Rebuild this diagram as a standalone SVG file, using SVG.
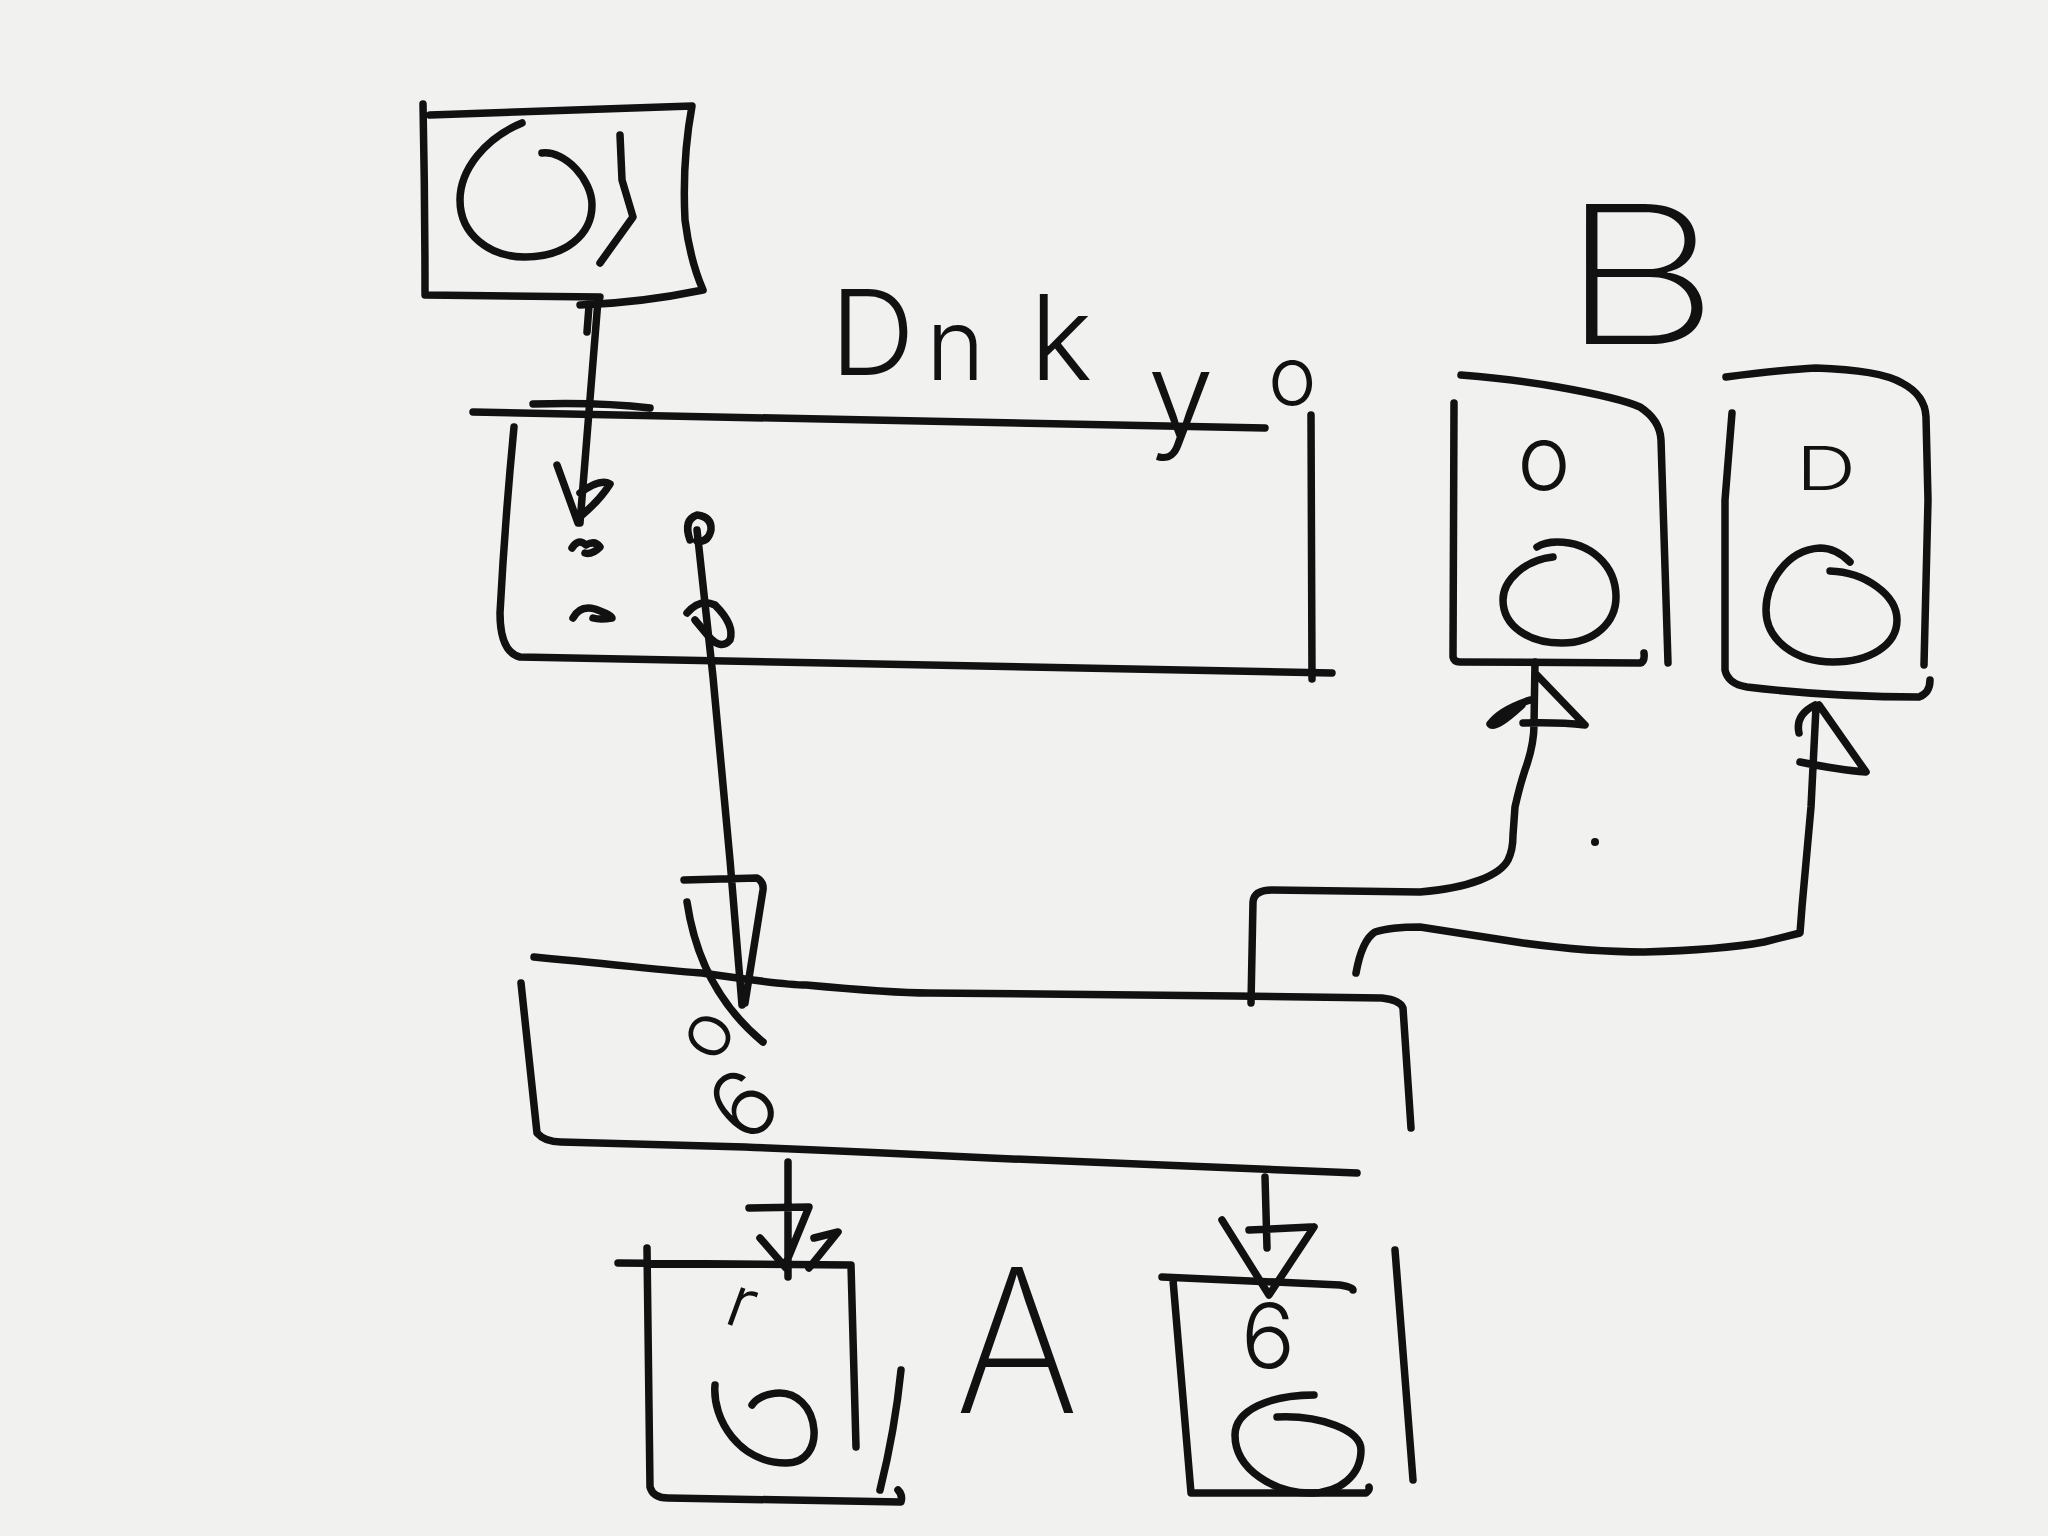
<svg xmlns="http://www.w3.org/2000/svg" width="2048" height="1536" viewBox="0 0 2048 1536">
<style>
.s{fill:none;stroke:#111;stroke-width:7.5;stroke-linecap:round;stroke-linejoin:round}
.t{font-family:"Inter","Liberation Sans","DejaVu Sans",Arial,sans-serif;font-weight:300;fill:#111}
.big{font-weight:200}
</style>
<rect x="0" y="0" width="2048" height="1536" fill="#f1f1f0"/>
<g id="top-box">
<path class="s" d="M423,104 Q425,200 425,293 M430,115 L692,106 Q682,160 685,220 Q690,260 703,290 M425,295 L600,297 M580,305 Q640,303 703,290"/>
<path class="s" d="M522,123 C485,138 460,170 460,200 C460,235 490,257 525,257 C565,257 592,235 592,205 C592,180 565,150 542,153"/>
<path class="s" d="M620,135 L622,180 L633,217 L600,263"/>
</g>
<g id="box-onkuto">
<path class="s" d="M473,412 L1265,428 M533,404 Q600,402 650,408"/>
<path class="s" d="M514,427 Q505,520 500,613 Q500,652 520,657 L1332,673"/>
<path class="s" d="M1311,415 L1312,679"/>
<path class="s" d="M573,618 Q580,605 595,609 Q612,615 612,618 Q600,620 593,618"/>
<path class="s" d="M687,613 Q700,598 715,605 Q735,625 730,640 Q722,650 710,638 L695,620"/>
<path class="s" d="M690,540 Q683,520 697,515 Q712,517 711,530 Q708,543 697,541"/>
<text class="t" font-size="118"><tspan x="830" y="375">D</tspan><tspan x="926" y="380" font-size="100">n</tspan><tspan x="1030" y="380">k</tspan><tspan x="1148" y="436">у</tspan><tspan x="1268" y="405" font-size="82">о</tspan></text>
</g>
<g id="box-middle">
<path class="s" d="M534,957 C620,965 680,972 702,973 C750,980 790,985 806,985 C860,990 900,993 929,993 L1235,996 L1382,998 Q1400,1000 1403,1008 L1411,1128"/>
<path class="s" d="M521,983 L537,1133 Q545,1142 561,1142 L745,1147 Q870,1152 990,1158 L1357,1173"/>
<text class="t" font-size="76" text-anchor="middle" transform="translate(710,1036) rotate(-60)" dy="20">o</text>
<text class="t" font-size="92" text-anchor="middle" transform="translate(744,1105) rotate(-45)" dy="32">6</text>
</g>
<g id="label-B"><text class="t big" font-size="192" x="1560" y="344" textLength="160" lengthAdjust="spacingAndGlyphs">B</text></g>
<g id="box-B1">
<path class="s" d="M1461,375 Q1520,380 1558,387 Q1620,398 1640,407 Q1660,420 1661,440 L1668,663 M1454,403 L1453,657 Q1454,662 1460,662 L1640,663 Q1645,662 1644,653"/>
<text class="t" font-size="90" text-anchor="middle" x="1544" y="490">o</text>
<path class="s" d="M1553,557 C1525,560 1503,580 1503,600 C1503,627 1530,643 1562,643 C1595,643 1616,622 1616,597 C1616,565 1590,542 1557,542 C1548,542 1540,545 1537,547"/>
</g>
<g id="box-B2">
<path class="s" d="M1726,377 Q1780,370 1816,368 Q1880,370 1902,383 Q1925,395 1926,417 L1928,500 L1924,665 M1732,413 L1725,500 L1725,670 Q1728,684 1747,687 Q1830,697 1919,697 Q1930,693 1930,680"/>
<text class="t" font-size="60" x="1796" y="490" textLength="60" lengthAdjust="spacingAndGlyphs">D</text>
<path class="s" d="M1850,562 C1840,552 1830,548 1820,548 C1785,550 1766,585 1766,610 C1766,640 1795,662 1833,662 C1870,662 1897,645 1897,620 C1897,595 1865,572 1830,571"/>
</g>
<g id="box-A1">
<path class="s" d="M618,1263 L851,1265 M647,1248 L650,1487 Q653,1498 668,1498 L901,1502 Q903,1495 898,1490 M851,1265 L856,1447 M901,1370 Q895,1430 880,1490"/>
<text class="t" font-size="72" font-weight="400" transform="translate(722,1322) rotate(20)">r</text>
<path class="s" d="M715,1385 C712,1420 740,1463 786,1463 C808,1463 815,1445 814,1430 C812,1405 795,1393 780,1393 C765,1393 755,1400 752,1405"/>
</g>
<g id="label-A"><text class="t big" font-size="200" x="955" y="1413" textLength="124" lengthAdjust="spacingAndGlyphs">A</text></g>
<g id="box-A2">
<path class="s" d="M1162,1277 L1340,1285 Q1353,1287 1353,1290 M1173,1280 L1191,1493 L1366,1493 Q1370,1490 1369,1487 M1395,1250 L1413,1480"/>
<text class="t" font-size="90" text-anchor="middle" x="1268" y="1368">6</text>
<path class="s" d="M1314,1395 C1270,1395 1235,1410 1235,1435 C1235,1470 1275,1493 1311,1493 C1340,1493 1361,1475 1361,1450 C1361,1430 1320,1415 1277,1417"/>
</g>
<g id="connectors">
<path class="s" d="M598,300 L580,523 M589,306 L587,332 M557,465 L578,523 M580,493 Q600,478 610,484 Q600,500 582,515 M572,548 Q578,538 586,545 Q595,540 600,547 Q592,555 585,553"/>
<path class="s" d="M697,530 L713,677 L730,860 L742,1005 M684,880 L757,878 Q764,882 763,890 L745,1003 M687,902 Q700,990 763,1042"/>
<path class="s" d="M1251,1003 L1253,902 Q1254,890 1272,890 L1420,892 C1470,888 1500,875 1508,860 Q1513,850 1513,835 L1515,807 Q1520,785 1525,770 Q1534,745 1534,725 L1535,662 M1535,673 L1585,725 Q1560,722 1523,723 M1530,700 Q1500,710 1490,724 Q1495,730 1522,705"/>
<path class="s" d="M1356,973 Q1362,940 1375,932 Q1390,927 1420,927 Q1470,935 1523,943 Q1590,952 1644,952 Q1720,950 1764,942 L1800,933 L1802,907 L1811,807 L1816,707 M1819,705 L1866,772 Q1840,770 1800,762 M1799,733 Q1795,715 1815,705"/>
<circle cx="1595" cy="842" r="4" fill="#111"/>
<path class="s" d="M788,1162 L788,1277 M749,1208 L809,1207 L786,1263 M760,1238 L786,1268 M809,1268 L838,1232 L814,1238"/>
<path class="s" d="M1265,1177 L1267,1248 M1222,1220 L1269,1295 L1314,1227 M1249,1230 L1311,1227"/>
</g>
</svg>
